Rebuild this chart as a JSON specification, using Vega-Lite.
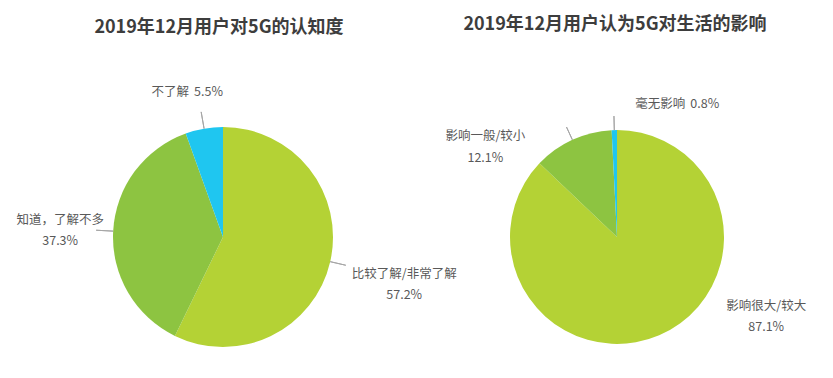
{
  "$schema": "https://vega.github.io/schema/vega-lite/v6.json",
  "background": "white",
  "padding": {"left": 5, "top": 16, "right": 5, "bottom": 2},
  "data": {"values": [
    {"chart": "A", "name": "比较了解/非常了解", "value": 0.572},
    {"chart": "A", "name": "知道，了解不多", "value": 0.373},
    {"chart": "A", "name": "不了解", "value": 0.055},
    {"chart": "B", "name": "影响很大/较大", "value": 0.871},
    {"chart": "B", "name": "影响一般/较小", "value": 0.121},
    {"chart": "B", "name": "毫无影响", "value": 0.008}
  ]},
  "spacing": 0,
  "bounds": "flush",
  "hconcat": [
    {
      "width": 436, "height": 260,
      "title": {"text": "2019年12月用户对5G的认知度", "fontSize": 18, "fontWeight": "bold", "color": "#3d3d3d", "offset": 49, "dx": -4},
      "transform": [{"filter": "datum.chart === 'A'"}],
      "resolve": {"scale": {"theta": "independent"}},
      "layer": [
        {
          "mark": {"type": "arc", "radius": 110},
          "encoding": {
            "theta": {"field": "value", "type": "quantitative", "stack": true, "scale": {"domain": [0, 1]}},
            "order": {"field": "value", "type": "quantitative", "sort": "descending"},
            "color": {"field": "name", "type": "nominal", "legend": null, "scale": {"domain": ["比较了解/非常了解", "知道，了解不多", "不了解"], "range": ["#b4d235", "#8dc441", "#1fc6f0"]}}
          }
        },
        {
          "transform": [
            {"stack": "value", "groupby": ["chart"], "sort": [{"field": "value", "order": "descending"}], "as": ["t0", "t1"]},
            {"filter": "datum.value < 0.5"}
          ],
          "mark": {"type": "arc", "radius": 127, "radius2": 110, "padAngle": 3.1416, "filled": false, "stroke": "#a6a6a6", "strokeWidth": 1},
          "encoding": {
            "theta": {"field": "t0", "type": "quantitative", "scale": {"domain": [0, 1]}},
            "theta2": {"field": "t1"}
          }
        },
        {
          "transform": [
            {"stack": "value", "groupby": ["chart"], "sort": [{"field": "value", "order": "descending"}], "as": ["t0", "t1"]},
            {"filter": "datum.value < 0.5"},
            {"aggregate": [{"op": "min", "field": "t0", "as": "a0"}, {"op": "max", "field": "t1", "as": "a1"}], "groupby": ["chart"]}
          ],
          "mark": {"type": "arc", "radius": 126, "radius2": 110, "padAngle": 3.1416, "filled": false, "stroke": "#a6a6a6", "strokeWidth": 1},
          "encoding": {
            "theta": {"field": "a0", "type": "quantitative", "scale": {"domain": [0, 1], "range": [3.14159, 9.42478]}},
            "theta2": {"field": "a1"}
          }
        },
        {
          "mark": {"type": "text", "radius": 110, "dx": 74, "dy": 12, "align": "center", "baseline": "middle", "font": "Noto Sans CJK SC", "fontSize": 12.5, "color": "#595959"},
          "encoding": {
            "theta": {"field": "value", "type": "quantitative", "stack": true, "scale": {"domain": [0, 1]}},
            "order": {"field": "value", "type": "quantitative", "sort": "descending"},
            "detail": {"field": "name", "type": "nominal"},
            "text": {"condition": {"test": "datum.name === '比较了解/非常了解'", "field": "name", "type": "nominal"}, "value": ""}
          }
        },
        {
          "mark": {"type": "text", "radius": 110, "dx": 74, "dy": 33, "align": "center", "baseline": "middle", "font": "Noto Sans CJK SC", "fontSize": 12.5, "color": "#595959"},
          "encoding": {
            "theta": {"field": "value", "type": "quantitative", "stack": true, "scale": {"domain": [0, 1]}},
            "order": {"field": "value", "type": "quantitative", "sort": "descending"},
            "detail": {"field": "name", "type": "nominal"},
            "text": {"condition": {"test": "datum.name === '比较了解/非常了解'", "field": "value", "type": "quantitative", "format": ".1%"}, "value": ""}
          }
        },
        {
          "mark": {"type": "text", "radius": 110, "dx": -53, "dy": -11, "align": "center", "baseline": "middle", "font": "Noto Sans CJK SC", "fontSize": 12.5, "color": "#595959"},
          "encoding": {
            "theta": {"field": "value", "type": "quantitative", "stack": true, "scale": {"domain": [0, 1]}},
            "order": {"field": "value", "type": "quantitative", "sort": "descending"},
            "detail": {"field": "name", "type": "nominal"},
            "text": {"condition": {"test": "datum.name === '知道，了解不多'", "field": "name", "type": "nominal"}, "value": ""}
          }
        },
        {
          "mark": {"type": "text", "radius": 110, "dx": -53, "dy": 10, "align": "center", "baseline": "middle", "font": "Noto Sans CJK SC", "fontSize": 12.5, "color": "#595959"},
          "encoding": {
            "theta": {"field": "value", "type": "quantitative", "stack": true, "scale": {"domain": [0, 1]}},
            "order": {"field": "value", "type": "quantitative", "sort": "descending"},
            "detail": {"field": "name", "type": "nominal"},
            "text": {"condition": {"test": "datum.name === '知道，了解不多'", "field": "value", "type": "quantitative", "format": ".1%"}, "value": ""}
          }
        },
        {
          "mark": {"type": "text", "radius": 110, "dx": -15, "dy": -37, "align": "right", "baseline": "middle", "font": "Noto Sans CJK SC", "fontSize": 12.5, "color": "#595959"},
          "encoding": {
            "theta": {"field": "value", "type": "quantitative", "stack": true, "scale": {"domain": [0, 1]}},
            "order": {"field": "value", "type": "quantitative", "sort": "descending"},
            "detail": {"field": "name", "type": "nominal"},
            "text": {"condition": {"test": "datum.name === '不了解'", "field": "name", "type": "nominal"}, "value": ""}
          }
        },
        {
          "mark": {"type": "text", "radius": 110, "dx": -10, "dy": -37, "align": "left", "baseline": "middle", "font": "Noto Sans CJK SC", "fontSize": 12.5, "color": "#595959"},
          "encoding": {
            "theta": {"field": "value", "type": "quantitative", "stack": true, "scale": {"domain": [0, 1]}},
            "order": {"field": "value", "type": "quantitative", "sort": "descending"},
            "detail": {"field": "name", "type": "nominal"},
            "text": {"condition": {"test": "datum.name === '不了解'", "field": "value", "type": "quantitative", "format": ".1%"}, "value": ""}
          }
        }
      ]
    },
    {
      "width": 352, "height": 260,
      "title": {"text": "2019年12月用户认为5G对生活的影响", "fontSize": 18, "fontWeight": "bold", "color": "#3d3d3d", "offset": 61, "dx": -2},
      "transform": [{"filter": "datum.chart === 'B'"}],
      "resolve": {"scale": {"theta": "independent"}},
      "layer": [
        {
          "mark": {"type": "arc", "radius": 107},
          "encoding": {
            "theta": {"field": "value", "type": "quantitative", "stack": true, "scale": {"domain": [0, 1]}},
            "order": {"field": "value", "type": "quantitative", "sort": "descending"},
            "color": {"field": "name", "type": "nominal", "legend": null, "scale": {"domain": ["影响很大/较大", "影响一般/较小", "毫无影响"], "range": ["#b4d235", "#8dc441", "#1fc6f0"]}}
          }
        },
        {
          "transform": [
            {"stack": "value", "groupby": ["chart"], "sort": [{"field": "value", "order": "descending"}], "as": ["t0", "t1"]},
            {"filter": "datum.value < 0.5"}
          ],
          "mark": {"type": "arc", "radius": 121, "radius2": 107, "padAngle": 3.1416, "filled": false, "stroke": "#a6a6a6", "strokeWidth": 1},
          "encoding": {
            "theta": {"field": "t0", "type": "quantitative", "scale": {"domain": [0, 1]}},
            "theta2": {"field": "t1"}
          }
        },
        {
          "mark": {"type": "text", "radius": 107, "dx": 107, "dy": -29, "align": "center", "baseline": "middle", "font": "Noto Sans CJK SC", "fontSize": 12.5, "color": "#595959"},
          "encoding": {
            "theta": {"field": "value", "type": "quantitative", "stack": true, "scale": {"domain": [0, 1]}},
            "order": {"field": "value", "type": "quantitative", "sort": "descending"},
            "detail": {"field": "name", "type": "nominal"},
            "text": {"condition": {"test": "datum.name === '影响很大/较大'", "field": "name", "type": "nominal"}, "value": ""}
          }
        },
        {
          "mark": {"type": "text", "radius": 107, "dx": 107, "dy": -8, "align": "center", "baseline": "middle", "font": "Noto Sans CJK SC", "fontSize": 12.5, "color": "#595959"},
          "encoding": {
            "theta": {"field": "value", "type": "quantitative", "stack": true, "scale": {"domain": [0, 1]}},
            "order": {"field": "value", "type": "quantitative", "sort": "descending"},
            "detail": {"field": "name", "type": "nominal"},
            "text": {"condition": {"test": "datum.name === '影响很大/较大'", "field": "value", "type": "quantitative", "format": ".1%"}, "value": ""}
          }
        },
        {
          "mark": {"type": "text", "radius": 107, "dx": -87, "dy": -4, "align": "center", "baseline": "middle", "font": "Noto Sans CJK SC", "fontSize": 12.5, "color": "#595959"},
          "encoding": {
            "theta": {"field": "value", "type": "quantitative", "stack": true, "scale": {"domain": [0, 1]}},
            "order": {"field": "value", "type": "quantitative", "sort": "descending"},
            "detail": {"field": "name", "type": "nominal"},
            "text": {"condition": {"test": "datum.name === '影响一般/较小'", "field": "name", "type": "nominal"}, "value": ""}
          }
        },
        {
          "mark": {"type": "text", "radius": 107, "dx": -87, "dy": 18, "align": "center", "baseline": "middle", "font": "Noto Sans CJK SC", "fontSize": 12.5, "color": "#595959"},
          "encoding": {
            "theta": {"field": "value", "type": "quantitative", "stack": true, "scale": {"domain": [0, 1]}},
            "order": {"field": "value", "type": "quantitative", "sort": "descending"},
            "detail": {"field": "name", "type": "nominal"},
            "text": {"condition": {"test": "datum.name === '影响一般/较小'", "field": "value", "type": "quantitative", "format": ".1%"}, "value": ""}
          }
        },
        {
          "mark": {"type": "text", "radius": 107, "dx": 71, "dy": -26, "align": "right", "baseline": "middle", "font": "Noto Sans CJK SC", "fontSize": 12.5, "color": "#595959"},
          "encoding": {
            "theta": {"field": "value", "type": "quantitative", "stack": true, "scale": {"domain": [0, 1]}},
            "order": {"field": "value", "type": "quantitative", "sort": "descending"},
            "detail": {"field": "name", "type": "nominal"},
            "text": {"condition": {"test": "datum.name === '毫无影响'", "field": "name", "type": "nominal"}, "value": ""}
          }
        },
        {
          "mark": {"type": "text", "radius": 107, "dx": 76, "dy": -26, "align": "left", "baseline": "middle", "font": "Noto Sans CJK SC", "fontSize": 12.5, "color": "#595959"},
          "encoding": {
            "theta": {"field": "value", "type": "quantitative", "stack": true, "scale": {"domain": [0, 1]}},
            "order": {"field": "value", "type": "quantitative", "sort": "descending"},
            "detail": {"field": "name", "type": "nominal"},
            "text": {"condition": {"test": "datum.name === '毫无影响'", "field": "value", "type": "quantitative", "format": ".1%"}, "value": ""}
          }
        }
      ]
    }
  ],
  "config": {"view": {"stroke": null}, "title": {"font": "Noto Sans CJK SC"}}
}
